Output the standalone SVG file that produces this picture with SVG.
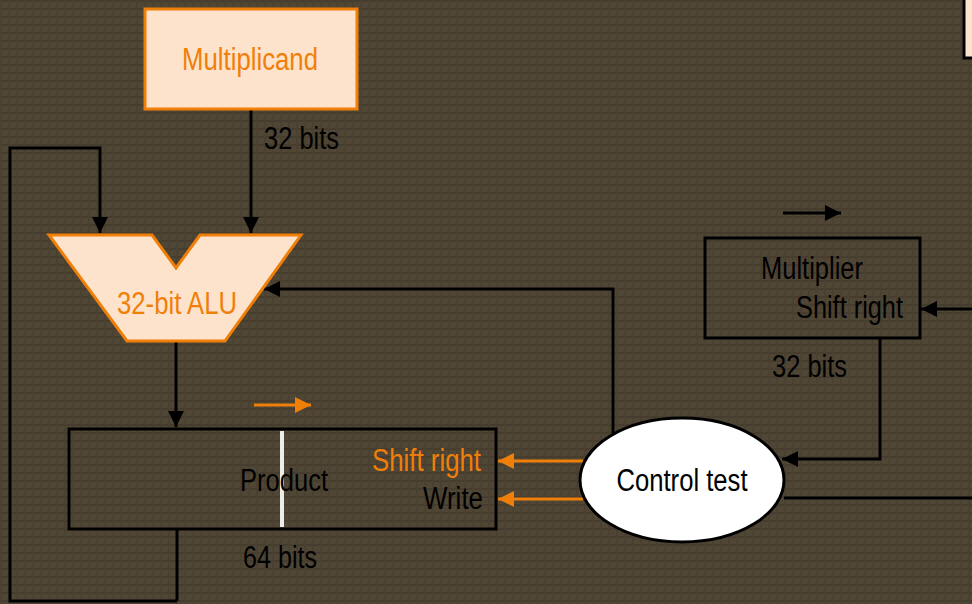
<svg xmlns="http://www.w3.org/2000/svg" width="972" height="604" viewBox="0 0 972 604">
<defs>
<pattern id="tex" width="8" height="8" patternUnits="userSpaceOnUse">
<rect width="8" height="8" fill="#504636"/>
<rect y="0" width="8" height="2" fill="#463d2f"/>
<rect x="0" width="2" height="8" fill="#48402f" opacity="0.8"/>
</pattern>
<marker id="ab" markerUnits="userSpaceOnUse" markerWidth="18" markerHeight="16" refX="16" refY="8" orient="auto"><path d="M0,0 L16,8 L0,16 Z" fill="#000"/></marker>
<marker id="ao" markerUnits="userSpaceOnUse" markerWidth="18" markerHeight="16" refX="16" refY="8" orient="auto"><path d="M0,0 L16,8 L0,16 Z" fill="#f07f09"/></marker>
</defs>
<style>
.t{font-family:"Liberation Sans Narrow","Liberation Sans",Arial,sans-serif;font-size:31px;fill:#000}
.o{fill:#f07f09}
.ln{fill:none;stroke:#000;stroke-width:3}
.lo{fill:none;stroke:#f07f09;stroke-width:3}
</style>
<rect width="972" height="604" fill="url(#tex)"/>

<g id="connectors">
<path class="ln" d="M251,110 V233" marker-end="url(#ab)"/>
<path class="ln" d="M177,601 H10 V148 H100 V233" marker-end="url(#ab)"/>
<path class="ln" d="M177,530 V601"/>
<path class="ln" d="M176,342 V427" marker-end="url(#ab)"/>
<path class="ln" d="M613,433 V289 H264" marker-end="url(#ab)"/>
<path class="ln" d="M880,339 V459 H782" marker-end="url(#ab)"/>
<path class="ln" d="M972,309 H921" marker-end="url(#ab)"/>
<path class="ln" d="M784,498 H972"/>
<path class="ln" d="M783,213 H841" marker-end="url(#ab)"/>
<path class="lo" d="M254,405 H311" marker-end="url(#ao)"/>
<path class="lo" d="M583,461 H498" marker-end="url(#ao)"/>
<path class="lo" d="M583,499 H498" marker-end="url(#ao)"/>
</g>

<g id="multiplicand">
<rect x="145" y="9" width="212" height="100" fill="#fde3cb" stroke="#f07f09" stroke-width="3"/>
<text class="t o" x="250" y="70" text-anchor="middle" textLength="136" lengthAdjust="spacingAndGlyphs">Multiplicand</text>
</g>
<text class="t" x="264" y="149" textLength="75" lengthAdjust="spacingAndGlyphs">32 bits</text>

<g id="alu">
<polygon points="49,235 152,235 176,268 200,235 301,235 225,341 127,341" fill="#fde3cb" stroke="#f07f09" stroke-width="3" stroke-linejoin="miter"/>
<text class="t o" x="177" y="314" text-anchor="middle" textLength="120" lengthAdjust="spacingAndGlyphs">32-bit ALU</text>
</g>

<g id="product">
<rect x="69" y="429" width="427" height="100" fill="none" stroke="#000" stroke-width="3"/>
<line x1="282" y1="431" x2="282" y2="527" stroke="#ececec" stroke-width="4"/>
<text class="t" x="240" y="491" textLength="88" lengthAdjust="spacingAndGlyphs">Product</text>
<text class="t o" x="372" y="471" textLength="109" lengthAdjust="spacingAndGlyphs">Shift right</text>
<text class="t" x="423" y="509" textLength="60" lengthAdjust="spacingAndGlyphs">Write</text>
</g>
<text class="t" x="243" y="568" textLength="74" lengthAdjust="spacingAndGlyphs">64 bits</text>

<g id="control">
<ellipse cx="682" cy="480" rx="102" ry="62" fill="#fff" stroke="#000" stroke-width="3"/>
<text class="t" x="682" y="491" text-anchor="middle" textLength="131" lengthAdjust="spacingAndGlyphs">Control test</text>
</g>

<g id="multiplier">
<rect x="705" y="238" width="215" height="100" fill="none" stroke="#000" stroke-width="3"/>
<text class="t" x="761" y="279" textLength="102" lengthAdjust="spacingAndGlyphs">Multiplier</text>
<text class="t" x="796" y="318" textLength="107" lengthAdjust="spacingAndGlyphs">Shift right</text>
</g>
<text class="t" x="772" y="377" textLength="75" lengthAdjust="spacingAndGlyphs">32 bits</text>

<g id="corner-box">
<rect x="964" y="-3" width="20" height="61" fill="#fde3cb" stroke="#000" stroke-width="3"/>
</g>
</svg>
